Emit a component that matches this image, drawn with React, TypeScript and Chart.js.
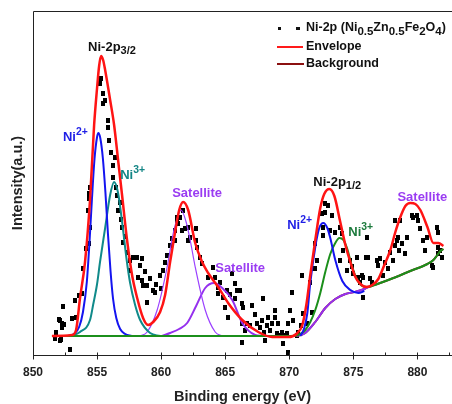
import { useEffect, useRef } from 'react';
import { Chart, registerables } from 'chart.js';

Chart.register(...registerables);

const FONT = '"Liberation Sans", Arial, sans-serif';

// Measured Ni 2p spectrum: [binding energy (eV), intensity (a.u.)]
const measured: [number, number][] = [
  [851.72, 16], [851.8, 22], [852.03, 35], [852.11, 14], [852.11, 34], [852.19, 15], [852.27, 27], [852.27, 31],
  [852.34, 48], [852.42, 30], [852.89, 5], [853.05, 36], [853.28, 54], [853.36, 37], [853.59, 59], [853.83, 61],
  [853.91, 86], [854.14, 106], [854.3, 144], [854.38, 156], [854.38, 161], [854.45, 167], [854.45, 127], [854.38, 111],
  [855.23, 274], [855.23, 271], [855.31, 276], [855.47, 261], [855.63, 254], [855.47, 251], [855.86, 234], [855.86, 227],
  [855.94, 214], [856.09, 202], [856.25, 189], [856.41, 197], [856.25, 177], [856.48, 167], [856.56, 159], [856.64, 144],
  [856.8, 152], [856.95, 127], [857.03, 112], [857.34, 102], [857.58, 84], [857.81, 97], [858.13, 97], [858.52, 96],
  [858.36, 89], [858.2, 77], [858.52, 74], [858.59, 69], [859.14, 76], [858.91, 69], [859.38, 64], [859.53, 62],
  [858.91, 52], [859.92, 79], [860.16, 84], [860.31, 92], [860.47, 99], [860.7, 109], [860.86, 116], [861.09, 124],
  [861.33, 131], [861.25, 137], [861.72, 144], [861.48, 137], [861.25, 134], [861.09, 114], [861.64, 124], [861.88, 126],
  [862.11, 127], [862.27, 117], [862.11, 114], [862.73, 126], [862.73, 114], [862.81, 107], [863.05, 97], [863.2, 91],
  [863.67, 77], [864.06, 87], [864.22, 77], [864.45, 61], [864.45, 67], [864.84, 57], [865.0, 47], [865.16, 64],
  [865.23, 37], [865.55, 81], [865.78, 71], [865.94, 64], [866.17, 64], [865.78, 56], [866.33, 51], [866.41, 47],
  [866.33, 31], [866.72, 31], [867.11, 49], [866.56, 24], [866.95, 29], [867.5, 31], [867.89, 34], [867.97, 56],
  [867.73, 27], [868.28, 29], [868.36, 37], [868.52, 24], [866.33, 12], [868.13, 14], [868.91, 44], [868.91, 37],
  [869.14, 31], [869.45, 22], [869.92, 31], [870.23, 62], [870.31, 34], [870.7, 22], [870.63, 19], [869.92, 2],
  [869.53, 11], [869.14, 19], [869.53, 19], [870.94, 29], [871.09, 41], [871.41, 31], [871.8, 42], [868.67, 31],
  [869.06, 21], [869.84, 21], [870.08, 44], [871.02, 79], [871.64, 72], [872.03, 86], [872.19, 94], [871.88, 86],
  [872.03, 111], [872.58, 141], [872.81, 142], [873.05, 149], [872.81, 151], [872.66, 127], [872.66, 119], [873.2, 124],
  [873.59, 122], [873.36, 139], [873.98, 127], [874.14, 121], [873.98, 94], [874.22, 104], [874.77, 94], [874.53, 84],
  [875.0, 81], [875.31, 97], [875.39, 77], [875.7, 79], [875.55, 72], [875.78, 77], [876.09, 117], [876.17, 97],
  [876.02, 97], [876.33, 76], [876.48, 72], [875.78, 57], [876.88, 94], [877.11, 96], [876.95, 89], [877.34, 79],
  [877.73, 86], [877.89, 102], [878.13, 94], [878.28, 109], [878.44, 114], [878.52, 117], [878.59, 104], [878.67, 134],
  [878.28, 134], [879.06, 101], [879.22, 117], [878.83, 111], [879.61, 139], [879.69, 137], [880.0, 139], [880.08, 134],
  [880.23, 126], [880.47, 114], [880.63, 104], [880.78, 117], [881.17, 89], [881.25, 87], [881.56, 127], [881.64, 122],
  [881.64, 107], [881.8, 104], [881.95, 97], [881.64, 101], [857.58, 94], [857.2, 118], [856.9, 135], [858.75, 83],
  [859.6, 70], [860.0, 66], [864.6, 72], [865.4, 60], [867.3, 40], [868.0, 22], [874.9, 88], [877.5, 92],
];

// Fitted envelope
const envelope: [number, number][] = [
  [851.48, 18], [853.05, 19], [853.36, 24], [853.67, 56], [854.06, 92], [854.45, 154], [854.77, 229], [855.0, 266],
  [855.16, 288], [855.31, 298], [855.47, 294], [855.63, 284], [856.02, 254], [856.33, 229], [856.64, 194], [856.95, 159],
  [857.34, 114], [857.73, 79], [858.13, 56], [858.59, 36], [858.98, 29], [859.38, 32], [859.92, 42], [860.31, 59],
  [860.7, 92], [861.09, 122], [861.41, 144], [861.72, 152], [862.11, 144], [862.66, 111], [863.2, 92], [863.67, 81],
  [864.45, 67], [865.23, 51], [866.33, 34], [867.58, 22], [868.67, 17], [869.92, 17], [870.55, 20], [871.02, 29],
  [871.33, 49], [871.64, 79], [872.03, 114], [872.42, 146], [872.73, 160], [873.13, 165], [873.52, 158], [873.98, 132],
  [874.38, 109], [874.77, 92], [875.16, 77], [875.55, 70], [876.02, 67], [876.48, 69], [876.95, 75], [877.42, 89],
  [877.89, 104], [878.28, 122], [878.67, 137], [879.06, 148], [879.45, 151], [879.84, 150], [880.23, 144], [880.78, 127],
  [881.25, 111], [881.64, 111], [882.03, 108],
];

// Shirley-type background
const background: [number, number][] = [
  [851.48, 18], [870.55, 18], [871.25, 21], [872.03, 32], [872.81, 46], [873.59, 55], [874.38, 60], [875.08, 62],
  [875.86, 65], [876.17, 67], [876.88, 70], [878.13, 76], [879.45, 83], [880.78, 90], [881.25, 94], [881.56, 99],
  [881.8, 103], [882.03, 105],
];

// Ni 2p3/2 components
const ni2p32Ni2: [number, number][] = [
  [852.7, 18], [853.2, 20], [853.6, 27], [853.9, 42], [854.2, 72], [854.4, 110], [854.6, 155], [854.8, 195],
  [855.0, 217], [855.1, 221], [855.25, 216], [855.45, 196], [855.65, 162], [855.85, 120], [856.05, 83], [856.25, 55],
  [856.5, 36], [856.8, 25], [857.2, 20], [857.7, 18],
];
const ni2p32Ni3: [number, number][] = [
  [852.9, 18], [853.67, 22], [854.45, 34], [854.69, 49], [855.0, 70], [855.23, 92], [855.63, 126], [856.02, 159],
  [856.33, 172], [856.64, 161], [857.03, 124], [857.3, 95], [857.58, 71], [857.97, 49], [858.36, 34], [859.14, 21],
  [859.92, 18],
];
const ni2p32SatA: [number, number][] = [
  [858.36, 18], [858.91, 22], [859.69, 44], [860.47, 87], [860.9, 118], [861.17, 132], [861.56, 144], [861.95, 132],
  [862.25, 115], [862.66, 87], [863.44, 44], [864.22, 22], [864.77, 18],
];
const ni2p32SatB: [number, number][] = [
  [860.08, 18], [860.7, 21], [861.4, 25], [862.03, 31], [862.73, 48], [863.44, 66], [864.14, 71], [864.77, 66],
  [865.55, 54], [866.33, 31], [867.34, 19], [867.89, 18],
];

// Ni 2p1/2 components (on the background)
const ni2p12Ni2: [number, number][] = [
  [870.86, 18], [871.17, 26], [871.41, 41], [871.64, 71], [872.03, 107], [872.34, 126], [872.66, 131], [872.97, 126],
  [873.2, 116], [873.59, 94], [874.14, 73], [874.77, 64], [875.39, 61], [875.86, 63],
];
const ni2p12Ni3: [number, number][] = [
  [851.48, 18], [870.08, 18], [870.7, 19], [871.25, 24], [871.64, 32], [872.03, 44], [872.42, 61], [872.81, 82],
  [873.2, 100], [873.59, 111], [873.91, 116], [874.22, 114], [874.53, 105], [874.84, 90], [875.23, 76], [875.7, 68],
  [876.17, 67], [876.88, 70], [878.13, 76], [879.45, 83], [880.78, 90], [881.25, 94], [881.56, 99], [881.8, 103],
  [882.03, 105],
];
const ni2p12Sat: [number, number][] = [
  [870.55, 18], [871.25, 21], [872.03, 32], [872.81, 46], [873.59, 55], [874.38, 60], [875.08, 62], [875.86, 65],
  [876.17, 67],
];

const xTicks = { min: 850, max: 882.7, step: 2.5, labelEvery: 5 };

type Part = { t: string; s?: 'sub' | 'sup' };
type PeakLabel = { e: number; i: number; color: string; parts: Part[] };

const peakLabels: PeakLabel[] = [
  { e: 854.3, i: 307, color: '#111111', parts: [{ t: 'Ni-2p' }, { t: '3/2', s: 'sub' }] },
  { e: 852.34, i: 217, color: '#1f1fe6', parts: [{ t: 'Ni' }, { t: '2+', s: 'sup' }] },
  { e: 856.8, i: 179, color: '#138585', parts: [{ t: 'Ni' }, { t: '3+', s: 'sup' }] },
  { e: 860.86, i: 161, color: '#9a3cf2', parts: [{ t: 'Satellite' }] },
  { e: 864.22, i: 86, color: '#9a3cf2', parts: [{ t: 'Satellite' }] },
  { e: 871.88, i: 172, color: '#111111', parts: [{ t: 'Ni-2p' }, { t: '1/2', s: 'sub' }] },
  { e: 869.84, i: 129, color: '#1f1fe6', parts: [{ t: 'Ni' }, { t: '2+', s: 'sup' }] },
  { e: 874.61, i: 122, color: '#1c7a3c', parts: [{ t: 'Ni' }, { t: '3+', s: 'sup' }] },
  { e: 878.44, i: 157, color: '#9a3cf2', parts: [{ t: 'Satellite' }] },
];

const sampleName: Part[] = [
  { t: 'Ni-2p (Ni' }, { t: '0.5', s: 'sub' }, { t: 'Zn' }, { t: '0.5', s: 'sub' },
  { t: 'Fe' }, { t: '2', s: 'sub' }, { t: 'O' }, { t: '4', s: 'sub' }, { t: ')' },
];

function drawRich(
  ctx: CanvasRenderingContext2D, parts: Part[], x: number, y: number, size: number, color: string, subScale = 0.85,
) {
  let cx = x;
  ctx.fillStyle = color;
  ctx.textBaseline = 'middle';
  ctx.textAlign = 'left';
  for (const p of parts) {
    const fs = p.s === 'sup' ? size * 0.8 : p.s === 'sub' ? size * subScale : size;
    ctx.font = `bold ${fs}px ${FONT}`;
    const dy = p.s === 'sub' ? size * 0.3 : p.s === 'sup' ? -size * 0.38 : 0;
    ctx.fillText(p.t, cx, y + dy);
    cx += ctx.measureText(p.t).width;
  }
}

const decorations = {
  id: 'decorations',
  afterDraw(chart: any) {
    const { ctx, chartArea } = chart;
    const xs = chart.scales.x;
    const ys = chart.scales.y;
    ctx.save();

    // frame: left and top edges
    ctx.strokeStyle = '#222';
    ctx.lineWidth = 1;
    ctx.beginPath();
    ctx.moveTo(chartArea.left + 0.5, chartArea.bottom);
    ctx.lineTo(chartArea.left + 0.5, chartArea.top + 0.5);
    ctx.lineTo(chartArea.right, chartArea.top + 0.5);
    ctx.stroke();

    // x tick marks: majors cross the axis, minors point inward
    const axisY = chartArea.bottom + 0.5;
    ctx.beginPath();
    for (const t of xs.ticks) {
      const px = Math.round(xs.getPixelForValue(t.value)) + 0.5;
      const major = t.value % xTicks.labelEvery === 0;
      ctx.moveTo(px, axisY - 3);
      ctx.lineTo(px, major ? axisY + 4 : axisY);
    }
    ctx.stroke();

    // y-axis title
    ctx.save();
    ctx.translate(18, (chartArea.top + chartArea.bottom) / 2);
    ctx.rotate(-Math.PI / 2);
    ctx.font = `bold 14.5px ${FONT}`;
    ctx.fillStyle = '#222';
    ctx.textAlign = 'center';
    ctx.textBaseline = 'middle';
    ctx.fillText('Intensity(a.u.)', 0, 0);
    ctx.restore();

    // peak annotations
    for (const l of peakLabels) {
      drawRich(ctx, l.parts, xs.getPixelForValue(l.e), ys.getPixelForValue(l.i), 13, l.color);
    }

    // legend
    ctx.fillStyle = '#111';
    ctx.fillRect(278, 27, 3, 3);
    ctx.fillRect(296, 27, 4, 3);
    drawRich(ctx, sampleName, 306, 28, 12.5, '#111', 0.92);
    ctx.lineWidth = 2;
    ctx.strokeStyle = '#ff1a1a';
    ctx.beginPath();
    ctx.moveTo(277, 47);
    ctx.lineTo(303, 47);
    ctx.stroke();
    ctx.strokeStyle = '#8b1010';
    ctx.beginPath();
    ctx.moveTo(277, 64);
    ctx.lineTo(304, 64);
    ctx.stroke();
    drawRich(ctx, [{ t: 'Envelope' }], 306, 47, 12.5, '#111');
    drawRich(ctx, [{ t: 'Background' }], 306, 64, 12.5, '#111');
    ctx.restore();
  },
};

const pts = (a: [number, number][]) => a.map(([x, y]) => ({ x, y }));

function curve(label: string, data: [number, number][], color: string, width: number, order: number) {
  return {
    label,
    data: pts(data),
    showLine: true,
    borderColor: color,
    backgroundColor: color,
    borderWidth: width,
    pointRadius: 0,
    pointHoverRadius: 0,
    fill: false,
    cubicInterpolationMode: 'monotone' as const,
    order,
  };
}

export default function App() {
  const ref = useRef<HTMLCanvasElement | null>(null);

  useEffect(() => {
    if (!ref.current) return;
    const dot = document.createElement('canvas');
    dot.width = 4;
    dot.height = 5;
    const dctx = dot.getContext('2d')!;
    dctx.fillStyle = '#000';
    dctx.fillRect(0, 0, 4, 5);

    const chart = new Chart(ref.current, {
      type: 'scatter',
      data: {
        datasets: [
          {
            label: 'Ni-2p',
            data: pts(measured),
            pointStyle: dot as any,
            pointRadius: 2,
            pointHoverRadius: 2,
            showLine: false,
            order: 10,
          },
          curve('Background', background, '#8b1010', 2, 9),
          curve('Ni2+ 2p3/2', ni2p32Ni2, '#1414f0', 2, 5),
          curve('Ni3+ 2p3/2', ni2p32Ni3, '#108a8a', 2, 6),
          curve('Satellite 1', ni2p32SatA, '#9a40ff', 1.2, 6),
          curve('Satellite 2', ni2p32SatB, '#9530ee', 2, 6),
          curve('Satellite 3', ni2p12Sat, '#9530ee', 2, 7),
          curve('Ni3+ 2p1/2', ni2p12Ni3, '#1b8f1b', 2, 4),
          curve('Ni2+ 2p1/2', ni2p12Ni2, '#1414f0', 2, 3),
          curve('Envelope', envelope, '#ff1414', 2.5, 1),
        ] as any,
      },
      options: {
        animation: false,
        responsive: false,
        maintainAspectRatio: false,
        layout: { autoPadding: false, padding: { left: 33, top: 11, right: 0, bottom: 0 } },
        plugins: { legend: { display: false }, tooltip: { enabled: false } },
        scales: {
          x: {
            type: 'linear',
            min: xTicks.min,
            max: xTicks.max,
            afterFit: (scale: any) => {
              scale.height = 49;
              scale.paddingRight = 0;
            },
            border: { display: true, color: '#222', width: 1 },
            grid: { display: true, drawOnChartArea: false, drawTicks: false, color: '#222' },
            ticks: {
              stepSize: xTicks.step,
              includeBounds: false,
              autoSkip: false,
              maxRotation: 0,
              padding: 10,
              color: '#222',
              font: { family: FONT, size: 12, weight: 'bold' },
              callback: (v: any) => (Number(v) % xTicks.labelEvery === 0 ? String(v) : ''),
            },
            title: {
              display: true,
              text: 'Binding energy (eV)',
              color: '#222',
              font: { family: FONT, size: 14.5, weight: 'bold', lineHeight: 1 },
              padding: { top: 10, bottom: 0 },
            },
          },
          y: {
            type: 'linear',
            display: false,
            min: -1,
            max: 343,
          },
        },
      } as any,
      plugins: [decorations],
    });
    return () => chart.destroy();
  }, []);

  return (
    <div style={{ position: 'absolute', left: 0, top: 0, width: 452, height: 404, background: '#fff' }}>
      <canvas ref={ref} width={452} height={404} />
    </div>
  );
}
